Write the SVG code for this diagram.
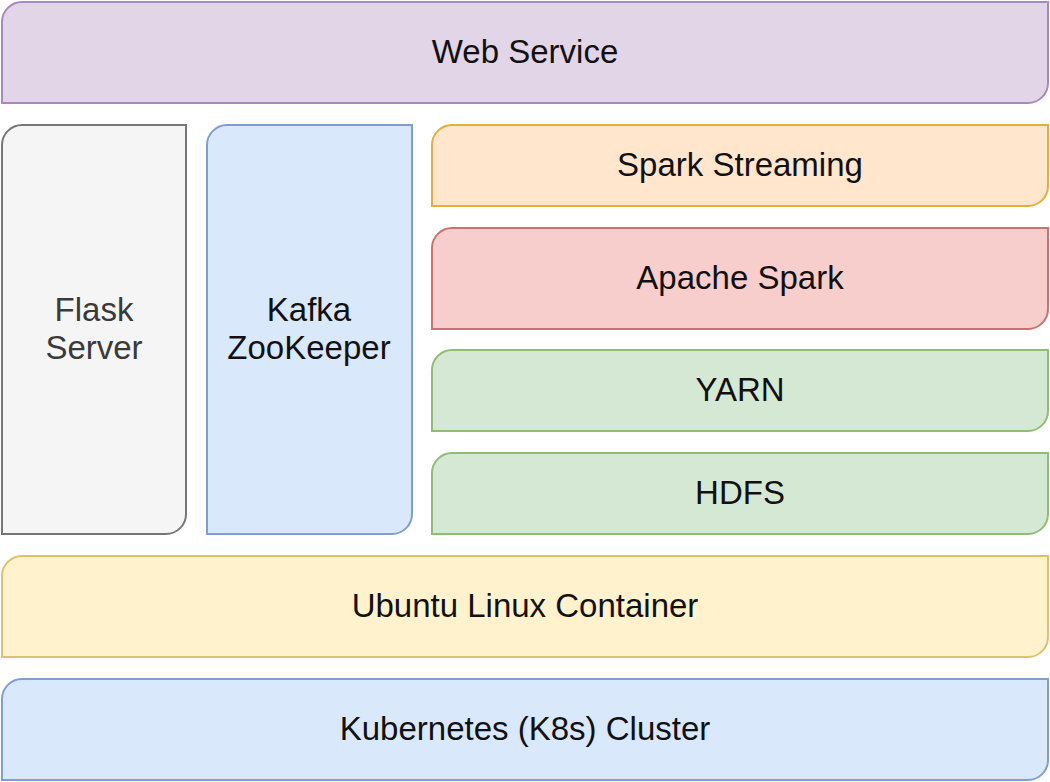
<svg xmlns="http://www.w3.org/2000/svg" width="1050" height="782" viewBox="0 0 1050 782">
<style>
.b{stroke-width:2}
.t{font-family:"Liberation Sans",Arial,Helvetica,sans-serif;font-size:33px;fill:#111;text-anchor:middle}
.purple{fill:#e1d5e7;stroke:#a888bd}
.grey{fill:#f5f5f5;stroke:#777}
.blue{fill:#dae8fc;stroke:#7f9fcf}
.orange{fill:#ffe6cc;stroke:#e2b03a}
.red{fill:#f8cecc;stroke:#c77470}
.green{fill:#d5e8d4;stroke:#8fbd72}
.yellow{fill:#fff2cc;stroke:#dcc170}
</style>
<rect width="1050" height="782" fill="#fff"/>
<g id="web-service">
<path class="b purple" d="M2,22 A20,20 0 0 1 22,2 H1048 V83 A20,20 0 0 1 1028,103 H2 Z"/>
<text class="t" x="525" y="63">Web Service</text>
</g>
<g id="flask-server">
<path class="b grey" d="M2,145 A20,20 0 0 1 22,125 H186 V514 A20,20 0 0 1 166,534 H2 Z"/>
<text class="t" x="94" y="321" style="fill:#3a3a3a">Flask</text>
<text class="t" x="94" y="359" style="fill:#3a3a3a">Server</text>
</g>
<g id="kafka-zookeeper">
<path class="b blue" d="M207,145 A20,20 0 0 1 227,125 H412 V514 A20,20 0 0 1 392,534 H207 Z"/>
<text class="t" x="309" y="321">Kafka</text>
<text class="t" x="309" y="359">ZooKeeper</text>
</g>
<g id="spark-streaming">
<path class="b orange" d="M432,145 A20,20 0 0 1 452,125 H1048 V186 A20,20 0 0 1 1028,206 H432 Z"/>
<text class="t" x="740" y="176">Spark Streaming</text>
</g>
<g id="apache-spark">
<path class="b red" d="M432,248 A20,20 0 0 1 452,228 H1048 V309 A20,20 0 0 1 1028,329 H432 Z"/>
<text class="t" x="740" y="289">Apache Spark</text>
</g>
<g id="yarn">
<path class="b green" d="M432,370 A20,20 0 0 1 452,350 H1048 V411 A20,20 0 0 1 1028,431 H432 Z"/>
<text class="t" x="740" y="401">YARN</text>
</g>
<g id="hdfs">
<path class="b green" d="M432,473 A20,20 0 0 1 452,453 H1048 V514 A20,20 0 0 1 1028,534 H432 Z"/>
<text class="t" x="740" y="504">HDFS</text>
</g>
<g id="ubuntu-linux-container">
<path class="b yellow" d="M2,576 A20,20 0 0 1 22,556 H1048 V637 A20,20 0 0 1 1028,657 H2 Z"/>
<text class="t" x="525" y="617">Ubuntu Linux Container</text>
</g>
<g id="kubernetes-cluster">
<path class="b blue" d="M2,699 A20,20 0 0 1 22,679 H1048 V760 A20,20 0 0 1 1028,780 H2 Z"/>
<text class="t" x="525" y="740">Kubernetes (K8s) Cluster</text>
</g>
<g id="connectors"/>
</svg>
